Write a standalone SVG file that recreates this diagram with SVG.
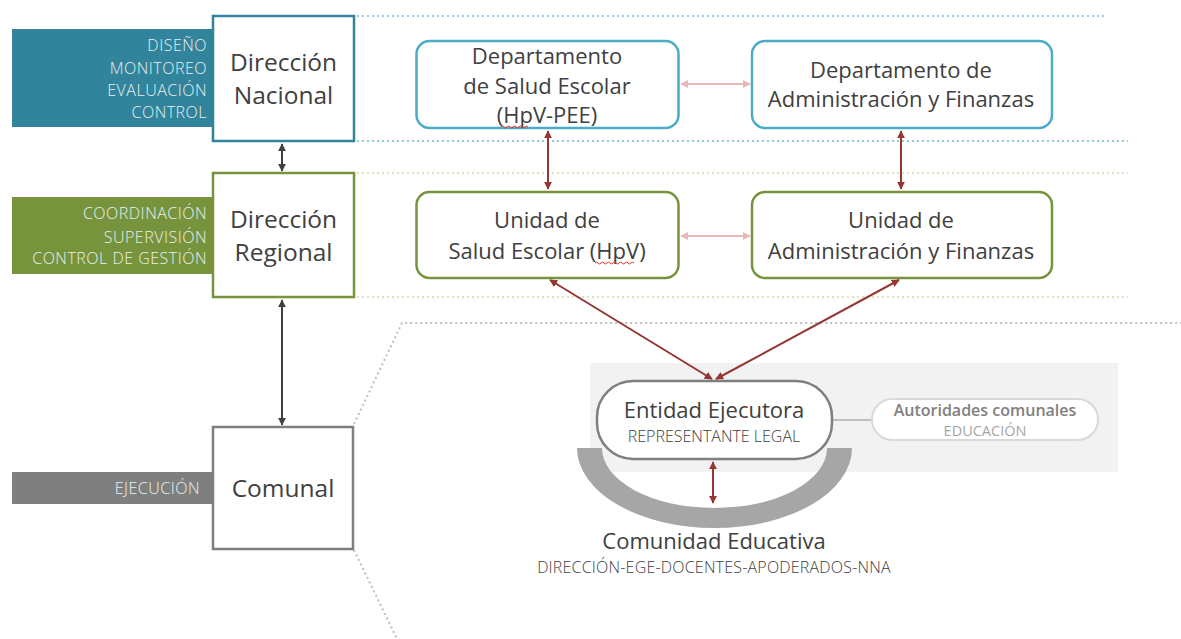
<svg xmlns="http://www.w3.org/2000/svg" width="1181" height="639" viewBox="0 0 1181 639">
<style>
text{font-family:"Open Sans","Liberation Sans",sans-serif;fill:#404040}
.lbl{font-size:16px;fill:#E8F0F2;text-anchor:end;font-weight:300;letter-spacing:0.5px}
.big{font-size:24.5px;text-anchor:middle}
.bx{font-size:22px;text-anchor:middle}
.mid{font-size:22px;text-anchor:middle}
.sub{font-size:16px;text-anchor:middle;font-weight:300}
.dotT{stroke:#92CDDC;stroke-width:2;stroke-dasharray:2 3;fill:none}
.dotG{stroke:#D7E4BD;stroke-width:2;stroke-dasharray:2 3;fill:none}
.dotK{stroke:#BFBFBF;stroke-width:2;stroke-dasharray:2 3;fill:none}
.dk{stroke:#404040;stroke-width:2;fill:none;marker-start:url(#aK);marker-end:url(#aK)}
.rd{stroke:#943634;stroke-width:2;fill:none;marker-start:url(#aR);marker-end:url(#aR)}
.pk{stroke:#E6B9B8;stroke-width:2;fill:none;marker-start:url(#aP);marker-end:url(#aP)}
.wavy{stroke:#E03030;stroke-width:1;fill:none}
</style>
<defs>
<marker id="aK" viewBox="0 0 10 10" refX="9" refY="5" markerWidth="4" markerHeight="4" orient="auto-start-reverse"><path d="M0,0 L10,5 L0,10 z" fill="#404040"/></marker>
<marker id="aR" viewBox="0 0 10 10" refX="9" refY="5" markerWidth="4" markerHeight="4" orient="auto-start-reverse"><path d="M0,0 L10,5 L0,10 z" fill="#943634"/></marker>
<marker id="aP" viewBox="0 0 10 10" refX="9" refY="5" markerWidth="4" markerHeight="4" orient="auto-start-reverse"><path d="M0,0 L10,5 L0,10 z" fill="#E6B9B8"/></marker>
</defs>
<rect width="1181" height="639" fill="#FFFFFF"/>

<g id="guides">
<path class="dotT" d="M357,16 H1107 M357,141 H1128"/>
<path class="dotG" d="M357,173 H1128 M357,297 H1128"/>
<path class="dotK" d="M354,424 L402,323 H1181 M354,550 L397,639"/>
</g>

<rect id="panel" x="590" y="363" width="528" height="109" fill="#F2F2F2"/>

<g id="nacional">
<rect x="12" y="29" width="201" height="98" fill="#31849B"/>
<text class="lbl" x="207" y="51">DISEÑO</text>
<text class="lbl" x="207" y="74">MONITOREO</text>
<text class="lbl" x="207" y="96">EVALUACIÓN</text>
<text class="lbl" x="207" y="118">CONTROL</text>
<rect x="213" y="16" width="141" height="125" fill="#FFFFFF" stroke="#31849B" stroke-width="2.5"/>
<text class="big" x="283.5" y="71">Dirección</text>
<text class="big" x="283.5" y="104">Nacional</text>
</g>

<g id="regional">
<rect x="12" y="197" width="201" height="77" fill="#77933C"/>
<text class="lbl" x="207" y="219">COORDINACIÓN</text>
<text class="lbl" x="207" y="243">SUPERVISIÓN</text>
<text class="lbl" x="207" y="264">CONTROL DE GESTIÓN</text>
<rect x="213" y="173" width="141" height="124" fill="#FFFFFF" stroke="#77933C" stroke-width="2.5"/>
<text class="big" x="283.5" y="228">Dirección</text>
<text class="big" x="283.5" y="261">Regional</text>
</g>

<g id="comunal">
<rect x="12" y="472" width="201" height="32" fill="#7F7F7F"/>
<text class="lbl" x="200" y="494">EJECUCIÓN</text>
<rect x="213" y="427" width="140" height="122" fill="#FFFFFF" stroke="#7F7F7F" stroke-width="2.5"/>
<text class="big" x="283" y="497">Comunal</text>
</g>

<g id="depto-salud">
<rect x="416.5" y="41" width="262" height="87" rx="13" fill="#FFFFFF" stroke="#4BACC6" stroke-width="2.5"/>
<text class="bx" x="547" y="64">Departamento</text>
<text class="bx" x="547" y="94">de Salud Escolar</text>
<text class="bx" x="547" y="123">(HpV-PEE)</text>
<path class="wavy" d="M501,127 q1.5,-2 3,0 t3,0 t3,0 t3,0 t3,0 t3,0 t3,0 t3,0 t3,0"/>
</g>

<g id="depto-admin">
<rect x="752" y="41" width="300" height="87" rx="13" fill="#FFFFFF" stroke="#4BACC6" stroke-width="2.5"/>
<text class="bx" x="901" y="78">Departamento de</text>
<text class="bx" x="901" y="107">Administración y Finanzas</text>
</g>

<g id="unidad-salud">
<rect x="416.5" y="192" width="262" height="86" rx="13" fill="#FFFFFF" stroke="#77933C" stroke-width="2.5"/>
<text class="bx" x="547" y="228">Unidad de</text>
<text class="bx" x="547" y="259">Salud Escolar (HpV)</text>
<path class="wavy" d="M595,263 q1.5,-2 3,0 t3,0 t3,0 t3,0 t3,0 t3,0 t3,0 t3,0 t3,0 t3,0 t3,0 t3,0 t3,0"/>
</g>

<g id="unidad-admin">
<rect x="752" y="192" width="300" height="86" rx="13" fill="#FFFFFF" stroke="#77933C" stroke-width="2.5"/>
<text class="bx" x="901" y="228">Unidad de</text>
<text class="bx" x="901" y="259">Administración y Finanzas</text>
</g>

<g id="comunidad">
<path d="M577,448 A137.5,80 0 0 0 852,448 L827,448 A112.5,60 0 0 1 602,448 Z" fill="#A6A6A6"/>
<text class="mid" x="714" y="549">Comunidad Educativa</text>
<text class="sub" x="714" y="573" style="letter-spacing:0.2px">DIRECCIÓN-EGE-DOCENTES-APODERADOS-NNA</text>
</g>

<g id="connectors">
<path class="dk" d="M282,144 V171"/>
<path class="dk" d="M282,300 V425"/>
<path class="pk" d="M681,84 H750"/>
<path class="pk" d="M681,236 H750"/>
<path class="rd" d="M548,131 V189"/>
<path class="rd" d="M901,131 V189"/>
<path class="rd" d="M550,280 L712,379"/>
<path class="rd" d="M899,280 L716,379"/>
<path class="rd" d="M713,462 V503"/>
<path d="M832,420 H873" stroke="#BFBFBF" stroke-width="2" fill="none"/>
</g>

<g id="entidad">
<rect x="597" y="381" width="235" height="78" rx="36" fill="#FFFFFF" stroke="#7F7F7F" stroke-width="2.5"/>
<text class="mid" x="714" y="418">Entidad Ejecutora</text>
<text class="sub" x="714" y="442">REPRESENTANTE LEGAL</text>
</g>

<g id="autoridades">
<rect x="872" y="399" width="226" height="41" rx="20.5" fill="#FFFFFF" stroke="#D9D9D9" stroke-width="2"/>
<text x="985" y="416" font-size="16" text-anchor="middle" font-weight="600" style="fill:#7F7F7F">Autoridades comunales</text>
<text x="985" y="436" font-size="14.5" text-anchor="middle" style="fill:#A6A6A6">EDUCACIÓN</text>
</g>
</svg>
